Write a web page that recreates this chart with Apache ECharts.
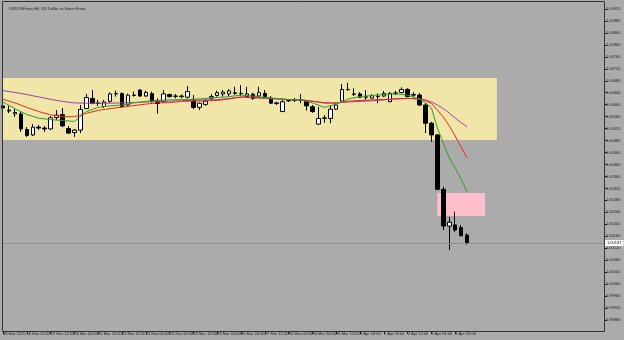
<!DOCTYPE html>
<html>
<head>
<meta charset="utf-8">
<script src="https://cdn.jsdelivr.net/npm/echarts/dist/echarts.min.js"></script>
<style>html,body{margin:0;padding:0;background:#ababab;}#c{width:624px;height:340px;}</style>
</head>
<body>
<div id="c"></div>
<script>
const titleText = 'USDCHFswo,H4  US Dollar vs Swiss Franc';
const tickLabels = ['18 Mar 2015','18 Mar 20:00','19 Mar 12:00','20 Mar 04:00','20 Mar 20:00','23 Mar 12:00','24 Mar 04:00','24 Mar 20:00','25 Mar 12:00','26 Mar 04:00','26 Mar 20:00','27 Mar 12:00','30 Mar 04:00','30 Mar 20:00','31 Mar 12:00','1 Apr 04:00','1 Apr 20:00','2 Apr 12:00','3 Apr 04:00','3 Apr 20:00'];
const opens  = [1.00596,1.00582,1.00569,1.00569,1.00517,1.00499,1.00525,1.00522,1.00519,1.00557,1.00567,1.00520,1.00507,1.00515,1.00587,1.00621,1.00606,1.00594,1.00611,1.00636,1.00637,1.00599,1.00632,1.00649,1.00629,1.00637,1.00614,1.00611,1.00634,1.00629,1.00627,1.00625,1.00616,1.00591,1.00601,1.00622,1.00631,1.00636,1.00636,1.00640,1.00638,1.00627,1.00635,1.00629,1.00638,1.00622,1.00606,1.00577,1.00613,1.00616,1.00615,1.00612,1.00593,1.00535,1.00554,1.00554,1.00585,1.00612,1.00650,1.00636,1.00636,1.00625,1.00622,1.00627,1.00629,1.00610,1.00638,1.00641,1.00651,1.00632,1.00632,1.00599,1.00538,1.00499,1.00317,1.00194,1.00198,1.00189,1.00164];
const closes = [1.00589,1.00579,1.00574,1.00519,1.00497,1.00525,1.00522,1.00519,1.00556,1.00565,1.00529,1.00505,1.00515,1.00584,1.00624,1.00604,1.00604,1.00609,1.00636,1.00637,1.00594,1.00632,1.00631,1.00629,1.00641,1.00611,1.00604,1.00636,1.00627,1.00628,1.00629,1.00644,1.00591,1.00605,1.00612,1.00627,1.00640,1.00642,1.00646,1.00638,1.00637,1.00636,1.00621,1.00640,1.00627,1.00605,1.00604,1.00610,1.00614,1.00615,1.00616,1.00596,1.00577,1.00554,1.00556,1.00585,1.00599,1.00651,1.00651,1.00635,1.00625,1.00626,1.00630,1.00628,1.00638,1.00638,1.00639,1.00651,1.00627,1.00634,1.00599,1.00538,1.00499,1.00317,1.00194,1.00207,1.00181,1.00162,1.00137];
const lows   = [1.00582,1.00572,1.00559,1.00509,1.00492,1.00495,1.00515,1.00509,1.00515,1.00549,1.00525,1.00502,1.00492,1.00505,1.00586,1.00602,1.00596,1.00589,1.00607,1.00627,1.00589,1.00596,1.00627,1.00626,1.00627,1.00607,1.00570,1.00606,1.00624,1.00621,1.00621,1.00621,1.00585,1.00582,1.00596,1.00616,1.00627,1.00627,1.00629,1.00632,1.00629,1.00622,1.00616,1.00627,1.00622,1.00602,1.00599,1.00576,1.00609,1.00609,1.00605,1.00580,1.00573,1.00532,1.00540,1.00538,1.00582,1.00610,1.00647,1.00629,1.00622,1.00616,1.00619,1.00605,1.00626,1.00609,1.00632,1.00638,1.00625,1.00626,1.00596,1.00505,1.00476,1.00315,1.00181,1.00114,1.00175,1.00159,1.00131];
const highs  = [1.00602,1.00596,1.00586,1.00576,1.00525,1.00535,1.00532,1.00529,1.00562,1.00582,1.00589,1.00529,1.00519,1.00599,1.00636,1.00649,1.00616,1.00616,1.00641,1.00647,1.00641,1.00637,1.00644,1.00652,1.00647,1.00644,1.00621,1.00649,1.00637,1.00636,1.00634,1.00662,1.00632,1.00607,1.00618,1.00636,1.00647,1.00649,1.00652,1.00660,1.00666,1.00660,1.00640,1.00660,1.00649,1.00629,1.00610,1.00616,1.00619,1.00622,1.00636,1.00616,1.00599,1.00593,1.00565,1.00596,1.00606,1.00669,1.00673,1.00655,1.00642,1.00649,1.00636,1.00638,1.00646,1.00642,1.00646,1.00658,1.00655,1.00642,1.00639,1.00605,1.00543,1.00502,1.00326,1.00225,1.00242,1.00198,1.00170];
const maIdx   = [0,2,4,6,8,10,12,14,16,18,20,22,24,26,28,30,32,34,36,38,40,42,44,46,48,50,52,54,56,58,60,62,64,66,68,70,71,72,73,74,75,76,77,78];
const maGreen = [1.00609,1.00587,1.00567,1.00555,1.00550,1.00547,1.00544,1.00577,1.00591,1.00596,1.00599,1.00606,1.00611,1.00614,1.00616,1.00617,1.00618,1.00621,1.00624,1.00627,1.00632,1.00629,1.00624,1.00621,1.00617,1.00616,1.00606,1.00591,1.00602,1.00619,1.00627,1.00631,1.00634,1.00636,1.00632,1.00619,1.00606,1.00589,1.00522,1.00472,1.00422,1.00388,1.00351,1.00308];
const maRed   = [1.00618,1.00606,1.00591,1.00577,1.00566,1.00560,1.00560,1.00571,1.00581,1.00587,1.00592,1.00597,1.00602,1.00606,1.00607,1.00611,1.00612,1.00613,1.00614,1.00619,1.00626,1.00625,1.00622,1.00620,1.00617,1.00617,1.00611,1.00607,1.00605,1.00612,1.00614,1.00616,1.00617,1.00620,1.00621,1.00619,1.00614,1.00604,1.00582,1.00559,1.00529,1.00495,1.00458,1.00422];
const maPurple= [1.00647,1.00641,1.00634,1.00626,1.00618,1.00611,1.00606,1.00605,1.00605,1.00605,1.00606,1.00607,1.00609,1.00611,1.00612,1.00613,1.00615,1.00616,1.00617,1.00621,1.00625,1.00623,1.00621,1.00619,1.00617,1.00616,1.00612,1.00605,1.00606,1.00609,1.00611,1.00613,1.00616,1.00619,1.00621,1.00619,1.00616,1.00609,1.00599,1.00587,1.00572,1.00555,1.00540,1.00525];
const rangeBox = {x0: 0, x1: 83, top: 1.00689, bottom: 1.00482};
const targetBox = {x0: 73, x1: 81, top: 1.00305, bottom: 1.00228};
const bidPrice = 1.00137;
const totalBars = 102;

const MON = ['Jan','Feb','Mar','Apr','May','Jun','Jul','Aug','Sep','Oct','Nov','Dec'];
const categories = [];
let t = Date.UTC(2015, 2, 18, 4);
while (categories.length < totalBars) {
  const d = new Date(t);
  const wd = d.getUTCDay();
  if (wd !== 0 && wd !== 6) {
    categories.push(d.getUTCDate() + ' ' + MON[d.getUTCMonth()] + ' ' + String(d.getUTCHours()).padStart(2,'0') + ':00');
  }
  t += 4 * 3600 * 1000;
}
const candles = opens.map((o, i) => [o, closes[i], lows[i], highs[i]]);
const pairs = arr => maIdx.map((ix, i) => [ix, arr[i]]);
const showTick = (i) => i % 4 === 0 && i / 4 < tickLabels.length;

const chart = echarts.init(document.getElementById('c'), null, {renderer: 'canvas'});
const txt = '#1a1a1a';
chart.setOption({
  animation: false,
  backgroundColor: '#ababab',
  textStyle: {fontFamily: 'Liberation Sans'},
  title: {text: titleText, left: 4, top: 2, textStyle: {fontSize: 4, fontWeight: 'normal', color: txt, fontFamily: 'Liberation Sans'}},
  grid: {left: 2, right: 20, top: 9, bottom: 20},
  xAxis: {
    type: 'category', data: categories, boundaryGap: false, offset: 11,
    axisLine: {show: false},
    axisTick: {show: true, interval: showTick, length: 3, lineStyle: {color: txt}},
    axisLabel: {interval: showTick, formatter: (v, i) => showTick(i) ? tickLabels[i / 4] : '', fontSize: 4, color: txt, align: 'left', margin: 1},
    splitLine: {show: false}
  },
  yAxis: {
    type: 'value', position: 'right', min: 0.99880, max: 1.00920, interval: 0.0004, scale: true,
    axisLine: {show: false},
    axisTick: {show: true, length: 3, lineStyle: {color: txt}},
    axisLabel: {fontSize: 4, color: txt, margin: 2, formatter: v => v.toFixed(5)},
    splitLine: {show: false}
  },
  graphic: [{type: 'rect', shape: {x: 2.5, y: 1.5, width: 602, height: 330}, style: {fill: 'none', stroke: '#333', lineWidth: 1}, z: 100, silent: true}],
  series: [
    {
      type: 'candlestick', data: candles, barWidth: 4, z: 2,
      itemStyle: {color: '#ffffff', color0: '#000000', borderColor: '#000000', borderColor0: '#000000', borderWidth: 1},
      markArea: {silent: true, z: 1, data: [
        [{xAxis: rangeBox.x0, yAxis: rangeBox.top, itemStyle: {color: '#efe6a8', opacity: 1}}, {xAxis: rangeBox.x1, yAxis: rangeBox.bottom}],
        [{xAxis: targetBox.x0, yAxis: targetBox.top, itemStyle: {color: '#ffc0cb', opacity: 1}}, {xAxis: targetBox.x1, yAxis: targetBox.bottom}]
      ]}
    },
    {type: 'line', data: pairs(maPurple), showSymbol: false, z: 3, lineStyle: {color: '#a23cb0', width: 1}, itemStyle: {color: '#a23cb0'},
      markLine: {silent: true, symbol: 'none', precision: 5, data: [{yAxis: bidPrice}],
        lineStyle: {color: '#8e8e8e', type: 'solid', width: 1},
        label: {position: 'end', formatter: bidPrice.toFixed(5), fontSize: 4, color: '#000', backgroundColor: '#ffffff', padding: [1, 2], distance: 1}
      }
    },
    {type: 'line', data: pairs(maRed), showSymbol: false, z: 3, lineStyle: {color: '#e8281e', width: 1}, itemStyle: {color: '#e8281e'}},
    {type: 'line', data: pairs(maGreen), showSymbol: false, z: 3, lineStyle: {color: '#2e9e2a', width: 1}, itemStyle: {color: '#2e9e2a'}}
  ]
});
</script>
</body>
</html>
